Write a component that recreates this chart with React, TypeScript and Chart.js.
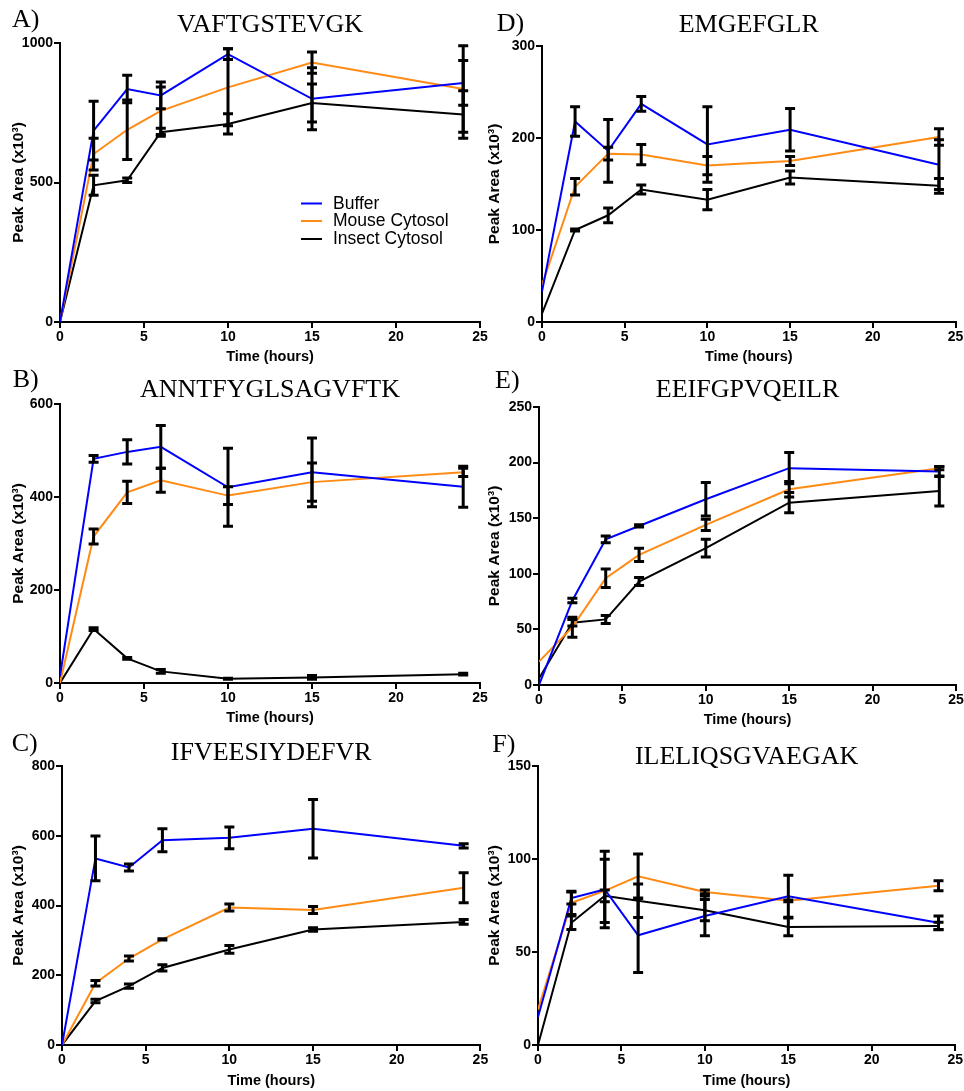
import React, { useEffect, useRef } from 'react';
import { Chart, registerables } from 'chart.js';

Chart.register(...registerables);

// ---------------- data ----------------
const TIMES = [0, 2, 4, 6, 10, 15, 24];
const SERIES_NAMES = ['Buffer', 'Mouse Cytosol', 'Insect Cytosol'];
const X_TICK_MAX = 25;
const X_TICK_STEP = 5;
const Y_TITLE = 'Peak Area (x10\u00B3)';
const X_TITLE = 'Time (hours)';

// A) VAFTGSTEVGK
const A_BUFFER = [0, 686, 835, 812, 960, 800, 857];
const A_BUFFER_ERR = [0, 105, 49, 48, 19, 111, 80];
const A_MOUSE = [0, 602, 689, 757, 841, 930, 835];
const A_MOUSE_ERR = [0, 57, 107, 85, 138, 38, 155];
const A_INSECT = [0, 490, 508, 680, 710, 785, 744];
const A_INSECT_ERR = [0, 36, 8, 14, 36, 68, 85];

// B) ANNTFYGLSAGVFTK
const B_BUFFER = [15, 482, 497, 508, 421, 453, 422];
const B_BUFFER_ERR = [0, 7, 26, 46, 84, 74, 44];
const B_MOUSE = [0, 315, 410, 436, 403, 432, 453];
const B_MOUSE_ERR = [0, 16, 24, 26, 19, 41, 9];
const B_INSECT = [0, 116, 53, 25, 9, 12, 19];
const B_INSECT_ERR = [0, 3, 2, 4, 1, 4, 2];

// C) IFVEESIYDEFVR
const C_BUFFER = [0, 535, 509, 587, 594, 620, 571];
const C_BUFFER_ERR = [0, 64, 10, 33, 31, 84, 6];
const C_MOUSE = [0, 177, 248, 303, 394, 387, 451];
const C_MOUSE_ERR = [0, 8, 7, 2, 10, 10, 43];
const C_INSECT = [0, 126, 169, 221, 274, 331, 353];
const C_INSECT_ERR = [0, 5, 6, 9, 11, 5, 7];

// D) EMGEFGLR
const D_BUFFER = [33, 218, 186, 237, 193, 209, 171];
const D_BUFFER_ERR = [0, 16, 34, 8, 41, 23, 27];
const D_MOUSE = [40, 147, 183, 182, 170, 175, 201];
const D_MOUSE_ERR = [0, 9, 7, 11, 10, 5, 9];
const D_INSECT = [9, 100, 116, 144, 133, 157, 148];
const D_INSECT_ERR = [0, 1, 8, 5, 11, 7, 8];

// E) EEIFGPVQEILR
const E_BUFFER = [0, 76, 131, 143, 167, 195, 192];
const E_BUFFER_ERR = [0, 2, 3, 1, 15, 14, 4.5];
const E_MOUSE = [21, 52, 96, 117, 144, 176, 195];
const E_MOUSE_ERR = [0, 9, 8.4, 6, 5, 7, 1.5];
const E_INSECT = [6, 56, 59, 93, 123, 164, 174.5];
const E_INSECT_ERR = [0, 3, 3.6, 3.6, 8, 9, 13.5];

// F) ILELIQSGVAEGAK
const F_BUFFER = [15, 79, 83.6, 59, 69.4, 80, 65.7];
const F_BUFFER_ERR = [0, 3.2, 20.6, 20, 10.7, 11.3, 3.6];
const F_MOUSE = [19, 76.4, 82.9, 90.7, 82.3, 77.5, 85.6];
const F_MOUSE_ERR = [0, 6.3, 17, 12, 1, 0.5, 2.7];
const F_INSECT = [0, 65.7, 80.2, 77.5, 72.5, 63.5, 64];
const F_INSECT_ERR = [0, 3.6, 3.2, 9, 5.7, 4.8, 2];

const PANEL_LETTERS = ['A)', 'B)', 'C)', 'D)', 'E)', 'F)'];
const PANEL_TITLES = ['VAFTGSTEVGK', 'ANNTFYGLSAGVFTK', 'IFVEESIYDEFVR', 'EMGEFGLR', 'EEIFGPVQEILR', 'ILELIQSGVAEGAK'];
const Y_MAX = [1000, 600, 800, 300, 250, 150];
const Y_STEP = [500, 200, 200, 100, 50, 50];
const VALUES = [
  [A_BUFFER, A_MOUSE, A_INSECT],
  [B_BUFFER, B_MOUSE, B_INSECT],
  [C_BUFFER, C_MOUSE, C_INSECT],
  [D_BUFFER, D_MOUSE, D_INSECT],
  [E_BUFFER, E_MOUSE, E_INSECT],
  [F_BUFFER, F_MOUSE, F_INSECT],
];
const ERRORS = [
  [A_BUFFER_ERR, A_MOUSE_ERR, A_INSECT_ERR],
  [B_BUFFER_ERR, B_MOUSE_ERR, B_INSECT_ERR],
  [C_BUFFER_ERR, C_MOUSE_ERR, C_INSECT_ERR],
  [D_BUFFER_ERR, D_MOUSE_ERR, D_INSECT_ERR],
  [E_BUFFER_ERR, E_MOUSE_ERR, E_INSECT_ERR],
  [F_BUFFER_ERR, F_MOUSE_ERR, F_INSECT_ERR],
];

// ---------------- styles / layout ----------------
const SERIES_COLORS = ['#0000ff', '#ff8a14', '#000000'];
const SANS = '"Liberation Sans", Arial, Helvetica, sans-serif';
const SERIF = '"Liberation Serif", "Times New Roman", Times, serif';

type Layout = {
  x: number; y: number; w: number; h: number;
  pad: { left: number; right: number; top: number; bottom: number };
  yw: number; xh: number; titlePb: number; letterX: number; letterY: number; legend: boolean;
};

const LAYOUTS: Layout[] = [
  { x: 0, y: 0, w: 490, h: 380, pad: { left: 9.7, right: 10, top: 17.2, bottom: 14.7 }, yw: 50.3, xh: 43.3, titlePb: 10.2, letterX: 12, letterY: 26.7, legend: true },
  { x: 0, y: 365, w: 490, h: 380, pad: { left: 9.7, right: 10, top: 17.2, bottom: 18.7 }, yw: 50.3, xh: 43.3, titlePb: 6.2, letterX: 12.7, letterY: 22, legend: false },
  { x: 0, y: 730, w: 490, h: 361, pad: { left: 9.7, right: 9.6, top: 15.5, bottom: 1 }, yw: 52.3, xh: 45, titlePb: 4.9, letterX: 11.7, letterY: 20.7, legend: false },
  { x: 480, y: 0, w: 484, h: 380, pad: { left: 5.2, right: 8.5, top: 17.2, bottom: 14.7 }, yw: 56.8, xh: 43.3, titlePb: 13.2, letterX: 16.7, letterY: 30.7, legend: false },
  { x: 480, y: 365, w: 484, h: 380, pad: { left: 5.2, right: 8, top: 17.5, bottom: 16.7 }, yw: 53.8, xh: 43.3, titlePb: 8.9, letterX: 15, letterY: 23.3, legend: false },
  { x: 480, y: 730, w: 484, h: 361, pad: { left: 5.2, right: 8.8, top: 18.9, bottom: 1 }, yw: 52.8, xh: 45, titlePb: 1.5, letterX: 12.3, letterY: 22, legend: false },
];

const errorBarPlugin = {
  id: 'errorBars',
  afterDatasetsDraw(chart: any) {
    const ctx = chart.ctx;
    const yScale = chart.scales.y;
    ctx.save();
    ctx.strokeStyle = '#000';
    ctx.lineWidth = 3;
    ctx.lineCap = 'butt';
    chart.data.datasets.forEach((ds: any, di: number) => {
      const meta = chart.getDatasetMeta(di);
      meta.data.forEach((pt: any, i: number) => {
        const e = ds.errors[i];
        if (!e) return;
        const v = ds.data[i].y;
        const yTop = yScale.getPixelForValue(v + e);
        const yBot = yScale.getPixelForValue(v - e);
        const x = pt.x;
        ctx.beginPath();
        ctx.moveTo(x, yTop);
        ctx.lineTo(x, yBot);
        ctx.moveTo(x - 5, yTop);
        ctx.lineTo(x + 5, yTop);
        ctx.moveTo(x - 5, yBot);
        ctx.lineTo(x + 5, yBot);
        ctx.stroke();
      });
    });
    ctx.restore();
  },
};

function makeDecorPlugin(letter: string, lx: number, ly: number, legend: boolean) {
  return {
    id: 'decor',
    afterDraw(chart: any) {
      const ctx = chart.ctx;
      ctx.save();
      ctx.fillStyle = '#000';
      ctx.font = '26px ' + SERIF;
      ctx.textAlign = 'left';
      ctx.textBaseline = 'alphabetic';
      ctx.fillText(letter, lx, ly);
      if (legend) {
        const ca = chart.chartArea;
        const rows = [160.5, 178, 196];
        ctx.font = '17.5px ' + SANS;
        ctx.textBaseline = 'middle';
        SERIES_NAMES.forEach((name, i) => {
          const y = ca.top + rows[i];
          ctx.strokeStyle = SERIES_COLORS[i];
          ctx.lineWidth = 2;
          ctx.beginPath();
          ctx.moveTo(ca.left + 241, y);
          ctx.lineTo(ca.left + 262, y);
          ctx.stroke();
          ctx.fillStyle = '#000';
          ctx.fillText(name, ca.left + 273, y + 0.5);
        });
      }
      ctx.restore();
    },
  };
}

function Panel({ idx }: { idx: number }) {
  const ref = useRef<HTMLCanvasElement>(null);
  const L = LAYOUTS[idx];
  useEffect(() => {
    const canvas = ref.current;
    if (!canvas) return;
    const datasets = SERIES_NAMES.map((name, si) => ({
      label: name,
      data: TIMES.map((t, i) => ({ x: t, y: VALUES[idx][si][i] })),
      errors: ERRORS[idx][si],
      borderColor: SERIES_COLORS[si],
      backgroundColor: SERIES_COLORS[si],
      borderWidth: 2,
      pointRadius: 0,
      tension: 0,
      fill: false,
    }));
    const chart = new Chart(canvas, {
      type: 'line',
      data: { datasets } as any,
      options: {
        responsive: false,
        animation: false,
        devicePixelRatio: 1,
        layout: { padding: L.pad },
        plugins: {
          legend: { display: false },
          tooltip: { enabled: false },
          title: {
            display: true,
            text: PANEL_TITLES[idx],
            color: '#000',
            fullSize: false,
            font: { family: SERIF, size: 26, weight: 'normal', lineHeight: 0.6 },
            padding: { top: 0, bottom: L.titlePb },
          },
        },
        scales: {
          x: {
            type: 'linear',
            min: 0,
            max: X_TICK_MAX,
            ticks: {
              stepSize: X_TICK_STEP,
              color: '#000',
              padding: 1,
              maxRotation: 0,
              autoSkip: false,
              font: { family: SANS, size: 14, weight: 'bold' },
              callback: (v: any) => String(v),
            },
            grid: { display: true, drawOnChartArea: false, drawTicks: true, tickLength: 6, tickWidth: 2, tickColor: '#000', color: '#000', lineWidth: 2 },
            border: { display: true, color: '#000', width: 2 },
            title: { display: true, text: X_TITLE, color: '#000', padding: 0, font: { family: SANS, size: 14.5, weight: 'bold', lineHeight: 1.2 } },
            afterFit: (s: any) => {
              s.height = L.xh;
              s.paddingLeft = 0;
              s.paddingRight = 0;
            },
          },
          y: {
            type: 'linear',
            min: 0,
            max: Y_MAX[idx],
            ticks: {
              stepSize: Y_STEP[idx],
              color: '#000',
              padding: 1,
              font: { family: SANS, size: 14, weight: 'bold' },
              callback: (v: any) => String(v),
            },
            grid: { display: true, drawOnChartArea: false, drawTicks: true, tickLength: 6, tickWidth: 2, tickColor: '#000', color: '#000', lineWidth: 2 },
            border: { display: true, color: '#000', width: 2 },
            title: { display: true, text: Y_TITLE, color: '#000', padding: 0, font: { family: SANS, size: 15.5, weight: 'bold', lineHeight: 1.2 } },
            afterFit: (s: any) => {
              s.width = L.yw;
              s.paddingTop = 0;
              s.paddingBottom = 0;
            },
          },
        },
      } as any,
      plugins: [errorBarPlugin, makeDecorPlugin(PANEL_LETTERS[idx], L.letterX, L.letterY, L.legend)],
    });
    return () => chart.destroy();
  }, [idx]);
  return (
    <canvas
      ref={ref}
      width={L.w}
      height={L.h}
      style={{ position: 'absolute', left: L.x, top: L.y, width: L.w, height: L.h }}
    />
  );
}

export default function App() {
  return (
    <div style={{ position: 'absolute', left: 0, top: 0, width: 964, height: 1091, background: '#fff', overflow: 'hidden' }}>
      {LAYOUTS.map((_, i) => (
        <Panel key={i} idx={i} />
      ))}
    </div>
  );
}
